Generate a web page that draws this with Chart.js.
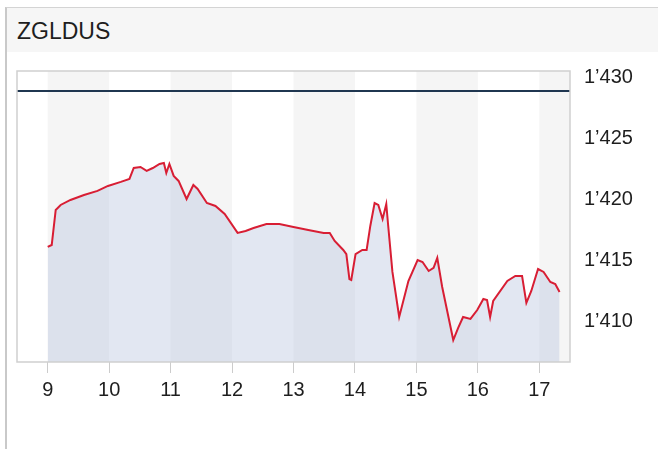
<!DOCTYPE html>
<html>
<head>
<meta charset="utf-8">
<script src="https://cdn.jsdelivr.net/npm/chart.js@4/dist/chart.umd.min.js"></script>
<style>
  html, body { margin: 0; padding: 0; background: #fff; }
  body { width: 658px; height: 449px; position: relative; overflow: hidden; font-family: "Liberation Sans", Arial, sans-serif; }
  .panel { position: absolute; left: 5px; top: 7px; right: -2px; bottom: -2px; border-left: 2px solid #c9c9c9; border-top: 1px solid #d4d4d4; }
  .header { position: absolute; left: 0; top: 0; right: 0; height: 44px; background: #f6f6f6; }
  .header span { position: absolute; left: 10px; top: 10px; font-size: 23px; color: #1e1e1e; }
  #chart { position: absolute; left: 0; top: 0; }
</style>
</head>
<body>
<div class="panel"><div class="header"><span>ZGLDUS</span></div></div>
<canvas id="chart" width="658" height="449"></canvas>
<script>
// time axis (day of month, fractional) and price
const times = [9.0, 9.065, 9.13, 9.21, 9.37, 9.59, 9.81, 9.98, 10.19, 10.33,
  10.40, 10.51, 10.61, 10.71, 10.82, 10.89, 10.93, 10.98, 11.05, 11.13,
  11.26, 11.37, 11.44, 11.59, 11.73, 11.88, 12.09, 12.22, 12.35, 12.56,
  12.77, 13.0, 13.24, 13.49, 13.59, 13.67, 13.81, 13.86, 13.91, 13.94,
  14.01, 14.12, 14.19, 14.25, 14.32, 14.38, 14.45, 14.51, 14.54, 14.61,
  14.72, 14.87, 15.02, 15.10, 15.20, 15.28, 15.34, 15.42, 15.60, 15.68,
  15.76, 15.88, 15.99, 16.09, 16.15, 16.20, 16.25, 16.48, 16.61, 16.72,
  16.79, 16.87, 16.98, 17.07, 17.18, 17.26, 17.33];
const prices = [1416.15, 1416.31, 1419.18, 1419.59, 1420.0, 1420.41, 1420.74, 1421.15, 1421.48, 1421.72,
  1422.62, 1422.70, 1422.38, 1422.62, 1422.95, 1423.03, 1422.21, 1422.95, 1421.97, 1421.56,
  1420.08, 1421.23, 1420.90, 1419.75, 1419.51, 1418.85, 1417.30, 1417.46, 1417.70, 1418.03,
  1418.03, 1417.79, 1417.54, 1417.30, 1417.30, 1416.64, 1415.90, 1415.57, 1413.52, 1413.44,
  1415.57, 1415.90, 1415.90, 1417.87, 1419.75, 1419.59, 1418.44, 1419.67, 1417.95, 1414.10,
  1410.41, 1413.36, 1415.08, 1414.92, 1414.18, 1414.43, 1415.25, 1412.87, 1408.52, 1409.51,
  1410.41, 1410.25, 1410.98, 1411.89, 1411.80, 1410.41, 1411.72, 1413.36, 1413.77, 1413.77,
  1411.56, 1412.54, 1414.34, 1414.10, 1413.28, 1413.11, 1412.46];
const refLevel = 1428.93;
const dayTicks = [9, 10, 11, 12, 13, 14, 15, 16, 17];
const priceTicks = [1410, 1415, 1420, 1425, 1430];
const shadedDays = [9, 11, 13, 15, 17];

const xMin = 8.5, xMax = 17.5;

const plotFrame = {
  id: 'plotFrame',
  beforeDatasetsDraw(chart) {
    const { ctx, chartArea: a, scales: { x } } = chart;
    ctx.save();
    ctx.fillStyle = '#f5f5f5';
    shadedDays.forEach(d => {
      const l = Math.max(x.getPixelForValue(d), a.left);
      const r = Math.min(x.getPixelForValue(d + 1), a.right);
      ctx.fillRect(l, a.top, r - l, a.bottom - a.top);
    });
    ctx.restore();
  },
  afterDatasetsDraw(chart) {
    const { ctx, chartArea: a } = chart;
    ctx.save();
    ctx.strokeStyle = '#cfcfcf';
    ctx.lineWidth = 1.5;
    ctx.strokeRect(a.left, a.top, a.right - a.left, a.bottom - a.top);
    ctx.restore();
  }
};

new Chart(document.getElementById('chart'), {
  type: 'line',
  data: {
    datasets: [
      {
        data: times.map((t, i) => ({ x: t, y: prices[i] })),
        borderColor: '#d81e34',
        borderWidth: 2,
        backgroundColor: 'rgba(180,192,222,0.38)',
        fill: 'start',
        pointRadius: 0,
        tension: 0
      },
      {
        data: [{ x: xMin, y: refLevel }, { x: xMax, y: refLevel }],
        borderColor: '#1f3650',
        borderWidth: 2,
        fill: false,
        pointRadius: 0
      }
    ]
  },
  options: {
    responsive: false,
    animation: false,
    devicePixelRatio: 1,
    layout: { padding: { left: 17, top: 71, right: 0, bottom: 0 } },
    plugins: { legend: { display: false }, tooltip: { enabled: false } },
    scales: {
      x: {
        type: 'linear',
        min: xMin,
        max: xMax,
        afterBuildTicks: s => { s.ticks = dayTicks.map(v => ({ value: v })); },
        afterFit: s => { s.height = 87; },
        grid: { drawOnChartArea: false, drawTicks: true, tickLength: 11, color: '#cccccc' },
        border: { display: false },
        ticks: { color: '#1e1e1e', font: { family: 'Liberation Sans', size: 20 }, padding: 5, maxRotation: 0 }
      },
      y: {
        position: 'right',
        min: 1406.72,
        max: 1430.57,
        afterBuildTicks: s => { s.ticks = priceTicks.map(v => ({ value: v })); },
        afterFit: s => { s.width = 88; },
        grid: { display: false },
        border: { display: false },
        ticks: {
          color: '#1e1e1e',
          font: { family: 'Liberation Sans', size: 20 },
          padding: 6,
          callback: v => String(v).replace(/^(\d)(\d{3})$/, '$1\u2019$2')
        }
      }
    }
  },
  plugins: [plotFrame]
});
</script>
</body>
</html>
